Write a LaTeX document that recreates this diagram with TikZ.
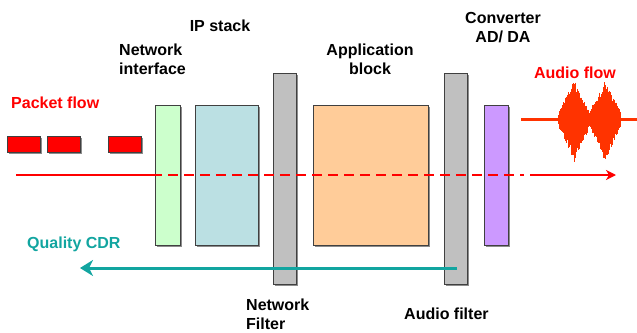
\documentclass[tikz,border=0pt]{standalone}
\usepackage{fontspec}
\setmainfont{Liberation Sans}
\usetikzlibrary{arrows.meta}
\definecolor{pkred}{HTML}{FF0000}
\definecolor{audred}{HTML}{FF3300}
\definecolor{nigreen}{HTML}{CCFFCC}
\definecolor{ipblue}{HTML}{BBE0E3}
\definecolor{fgray}{HTML}{C0C0C0}
\definecolor{aporange}{HTML}{FFCC99}
\definecolor{cvpurple}{HTML}{CC99FF}
\definecolor{cdrteal}{HTML}{12A5A0}
\definecolor{edgegray}{HTML}{404040}
\tikzset{
  lbl/.style={font=\fontsize{16}{19}\selectfont\bfseries, text=black, inner sep=0pt, align=center},
  redlbl/.style={lbl, text=pkred},
  block/.style={draw=edgegray, line width=0.9pt},
  shadowbox/.style={fill=black!45},
  packet/.style={fill=pkred, draw=edgegray, line width=0.6pt},
}
\newcommand{\blockbox}[6]{% name, x1, y1, x2, y2, color
  \fill[shadowbox] (#2+2,#3+2) rectangle (#4+2,#5+2);
  \draw[block, fill=#6] (#2,#3) rectangle (#4,#5);
  \coordinate (#1-tl) at (#2,#3);
  \coordinate (#1-br) at (#4,#5);
}
\begin{document}
\begin{tikzpicture}[x=1pt,y=-1pt]
\useasboundingbox (0,0) rectangle (637,332);

% labels
\node[redlbl, anchor=west] (pflow) at (11,103) {Packet flow};
\node[lbl, anchor=west, align=left] (nilbl) at (119,59) {Network\\interface};
\node[lbl] (iplbl) at (220,26) {IP stack};
\node[lbl] (aplbl) at (370,59) {Application\\block};
\node[lbl] (cvlbl) at (503,28) {Converter\\AD/ DA};
\node[redlbl] (aflow) at (575,73) {Audio flow};
\node[lbl, anchor=west, align=left] (nflbl) at (246,314) {Network\\Filter};
\node[lbl, anchor=west] (aflbl) at (404,314) {Audio filter};
\node[lbl, text=cdrteal, anchor=west] (cdrlbl) at (27,244) {Quality CDR};

% packets
\fill[shadowbox] (9,138) rectangle (42,154);
\fill[shadowbox] (49,138) rectangle (82,154);
\fill[shadowbox] (110,138) rectangle (143,154);
\draw[packet] (7,136) rectangle (40,152);
\draw[packet] (47,136) rectangle (80,152);
\draw[packet] (108,136) rectangle (141,152);

% blocks
\blockbox{ni}{155}{105}{180}{245}{nigreen}
\blockbox{ip}{195}{105}{258}{245}{ipblue}
\blockbox{nf}{273}{73}{296}{284}{fgray}
\blockbox{ap}{313}{105}{428}{245}{aporange}
\blockbox{af}{444}{73}{467}{284}{fgray}
\blockbox{cv}{484}{105}{508}{245}{cvpurple}

% packet flow line
\coordinate (ls) at (16,175);
\coordinate (ld1) at (152,175);
\coordinate (ld2) at (524,175);
\coordinate (le) at (616,175);
\draw[pkred, line width=2.5pt] (ls) -- (ld1);
\draw[pkred, line width=2.5pt, dash pattern=on 10pt off 6pt] (ld1) -- (ld2);
\draw[pkred, line width=2.5pt, -{Stealth[length=10pt,width=10pt,inset=3pt]}] (ld2) ++(6,0) -- (le);

% quality CDR arrow
\coordinate (cs) at (457,268);
\coordinate (ce) at (80,268);
\draw[cdrteal, line width=3pt, -{Stealth[length=13pt,width=16pt,inset=4pt]}] (cs) -- (ce);

% audio flow
\coordinate (as) at (521,119);
\coordinate (ae) at (637,119);
\draw[audred, line width=3pt] (as) -- (ae);
\pgfmathsetseed{7}
\foreach \c in {574,605}{
  \foreach \i in {-32,...,32}{
    \pgfmathsetmacro{\t}{\i/32}
    \pgfmathsetmacro{\env}{23*sqrt(max(0,1-\t*\t))*(1-0.2*abs(\t)) + 12*(1-abs(\t))^3}
    \pgfmathsetmacro{\up}{\env*(0.8+0.35*rnd)}
    \pgfmathsetmacro{\dn}{\env*(0.85+0.4*rnd)}
    \draw[audred, line width=0.8pt] (\c+\i*0.5,119-\up) -- (\c+\i*0.5,119+\dn);
  }
}
\end{tikzpicture}
\end{document}
